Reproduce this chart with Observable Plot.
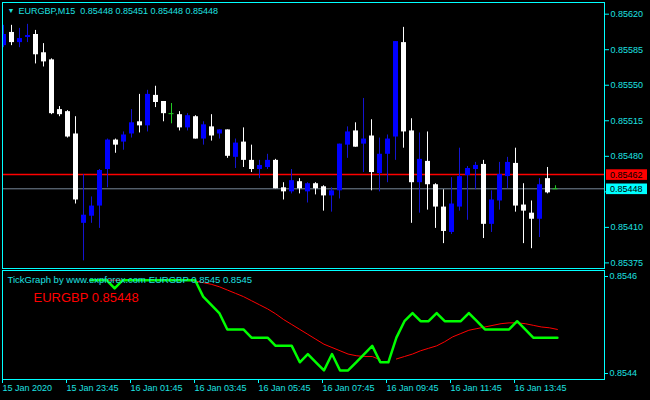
<!DOCTYPE html>
<html>
<head>
<meta charset="utf-8">
<script src="https://cdn.jsdelivr.net/npm/d3@7"></script>
<script src="https://cdn.jsdelivr.net/npm/@observablehq/plot@0.6"></script>
<style>
  html, body { margin: 0; padding: 0; background: #000; }
  #chart { position: relative; width: 650px; height: 400px; background: #000; overflow: hidden; }
  #chart svg { position: absolute; left: 0; display: block; overflow: visible; }
</style>
</head>
<body>
<div id="chart"></div>
<script>
// EURGBP M15 bars, oldest first
const symbol = "EURGBP";
const period = "M15";
const open = [0.85589,0.85602,0.85592,0.85597,0.85600,0.85582,0.85575,0.85526,0.85524,0.85502,
  0.85414,0.85421,0.85431,0.85467,0.85496,0.85494,0.85502,0.85514,0.85510,0.85540,
  0.85534,0.85522,0.85521,0.85508,0.85519,0.85497,0.85509,0.85502,0.85506,0.85479,
  0.85494,0.85476,0.85467,0.85469,0.85476,0.85449,0.85445,0.85455,0.85445,0.85453,
  0.85450,0.85441,0.85446,0.85491,0.85505,0.85492,0.85500,0.85463,0.85482,0.85499,
  0.85592,0.85505,0.85454,0.85475,0.85452,0.85430,0.85405,0.85430,0.85461,0.85467,
  0.85472,0.85413,0.85436,0.85460,0.85473,0.85432,0.85424,0.85418,0.85458,0.85448];
const high = [0.85609,0.85609,0.85606,0.85610,0.85604,0.85591,0.85576,0.85529,0.85525,0.85519,
  0.85462,0.85440,0.85467,0.85497,0.85497,0.85504,0.85526,0.85541,0.85545,0.85549,
  0.85534,0.85532,0.85524,0.85522,0.85520,0.85514,0.85521,0.85506,0.85506,0.85497,
  0.85508,0.85491,0.85476,0.85482,0.85477,0.85454,0.85467,0.85458,0.85454,0.85454,
  0.85451,0.85449,0.85492,0.85509,0.85513,0.85537,0.85516,0.85498,0.85501,0.85593,
  0.85607,0.85517,0.85503,0.85504,0.85453,0.85447,0.85459,0.85488,0.85470,0.85474,
  0.85476,0.85446,0.85474,0.85479,0.85488,0.85453,0.85436,0.85458,0.85469,0.85451];
const low = [0.85587,0.85589,0.85587,0.85592,0.85571,0.85568,0.85521,0.85519,0.85498,0.85433,
  0.85377,0.85414,0.85409,0.85449,0.85483,0.85486,0.85498,0.85503,0.85504,0.85528,
  0.85514,0.85512,0.85505,0.85505,0.85497,0.85491,0.85495,0.85497,0.85478,0.85468,
  0.85469,0.85464,0.85458,0.85467,0.85448,0.85437,0.85443,0.85443,0.85434,0.85442,
  0.85426,0.85425,0.85438,0.85478,0.85489,0.85464,0.85446,0.85445,0.85454,0.85476,
  0.85488,0.85414,0.85424,0.85427,0.85409,0.85394,0.85403,0.85426,0.85417,0.85447,
  0.85399,0.85405,0.85427,0.85448,0.85425,0.85394,0.85389,0.85400,0.85443,0.85448];
const close = [0.85600,0.85592,0.85596,0.85599,0.85580,0.85573,0.85522,0.85521,0.85499,0.85437,
  0.85422,0.85431,0.85466,0.85496,0.85491,0.85501,0.85513,0.85510,0.85541,0.85533,
  0.85522,0.85522,0.85508,0.85520,0.85497,0.85511,0.85500,0.85506,0.85480,0.85493,
  0.85476,0.85467,0.85471,0.85476,0.85448,0.85445,0.85456,0.85448,0.85453,0.85448,
  0.85441,0.85446,0.85492,0.85504,0.85489,0.85497,0.85464,0.85482,0.85497,0.85593,
  0.85504,0.85454,0.85477,0.85452,0.85430,0.85406,0.85433,0.85460,0.85468,0.85471,
  0.85413,0.85437,0.85462,0.85474,0.85431,0.85426,0.85418,0.85452,0.85444,0.85448];

const bid = 0.85448;
const ask = 0.85462;

// price scale labels and time labels (bar index of each label)
const priceTicks = [0.85620, 0.85585, 0.85550, 0.85515, 0.85480, 0.85445, 0.85410, 0.85375];
const timeTickBars = [0, 8, 16, 24, 32, 40, 48, 56, 64];
const timeLabels = ["15 Jan 2020", "15 Jan 23:45", "16 Jan 01:45", "16 Jan 03:45", "16 Jan 05:45",
  "16 Jan 07:45", "16 Jan 09:45", "16 Jan 11:45", "16 Jan 13:45"];

// TickGraph window: incoming tick prices and their moving average (null = not drawn)
const tickPrices = [0.85455,0.85455,0.85455,0.85454,0.85455,0.85455,0.85455,0.85455,0.85455,0.85455,
  0.85455,0.85455,0.85455,0.85455,0.85453,0.85452,0.85451,0.85449,0.85449,0.85449,
  0.85448,0.85448,0.85448,0.85447,0.85447,0.85447,0.85445,0.85446,0.85445,0.85444,
  0.85446,0.85444,0.85444,0.85445,0.85446,0.85447,0.85445,0.85445,0.85448,0.85450,
  0.85451,0.85450,0.85450,0.85451,0.85450,0.85450,0.85450,0.85451,0.85450,0.85449,
  0.85449,0.85449,0.85449,0.85450,0.85449,0.85448,0.85448,0.85448,0.85448];
const tickAverage = [0.854550,0.854550,0.854550,0.854550,0.854550,0.854550,0.854550,0.854550,0.854550,0.854550,
  0.854550,0.854550,0.854550,0.854549,0.854547,0.854545,0.854542,0.854538,0.854534,0.854530,
  0.854525,0.854520,0.854515,0.854509,0.854502,0.854496,0.854490,0.854484,0.854478,0.854472,
  0.854468,0.854464,0.854460,0.854458,0.854457,0.854457,0.854453,null,0.854454,0.854457,
  0.854460,0.854464,0.854467,0.854470,0.854475,0.854481,0.854485,0.854489,0.854491,0.854493,
  0.854495,0.854497,0.854498,0.854498,0.854497,0.854495,0.854493,0.854492,0.854490];

const BULL = "#0000ff", BEAR = "#ffffff", DOJI = "#22cc22";
const BULL_WICK = "#1414d2";
const FRAME = "#00ffff", TEXT = "#1ee0e0";
const FONT = "'Liberation Sans', Arial, sans-serif";
const f5 = d3.format(".5f"), f4 = d3.format(".4f");

const bars = open.map((o, k) => ({k, open: o, high: high[k], low: low[k], close: close[k]}));
const bodyColor = d => d.close > d.open ? BULL : d.close < d.open ? BEAR : DOJI;
const wickColor = d => d.close > d.open ? BULL_WICK : d.close < d.open ? BEAR : DOJI;
const last = bars[bars.length - 1];
const title = `${symbol},${period}\u00a0\u00a0${f5(last.open)} ${f5(last.high)} ${f5(last.low)} ${f5(last.close)}`;

// a scale label that sits under a current-price tag is hidden by it
const underTag = d => Math.abs(d - bid) < 0.00005 || Math.abs(d - ask) < 0.00005;

const container = document.getElementById("chart");

// price chart
const main = Plot.plot({
  width: 650, height: 269,
  marginTop: 2, marginBottom: 1, marginLeft: 2, marginRight: 46,
  style: {background: "#000", fontFamily: FONT, fontSize: "9px", color: TEXT},
  x: {domain: [-0.125, 75.125], axis: null},
  y: {domain: [0.853695, 0.856315], axis: null},
  color: {type: "identity"},
  marks: [
    Plot.ruleY([ask], {stroke: "#ff0000", strokeWidth: 1.5}),
    Plot.ruleY([bid], {stroke: "#778899", strokeWidth: 1}),
    Plot.ruleX(bars, {x: "k", y1: "low", y2: "high", stroke: wickColor, strokeWidth: 1, clip: true}),
    Plot.ruleX(bars.filter(d => d.open !== d.close), {x: "k", y1: "open", y2: "close", stroke: bodyColor, strokeWidth: 5, strokeLinecap: "butt", clip: true}),
    Plot.ruleY(bars.filter(d => d.open === d.close), {y: "close", x1: d => d.k - 0.3125, x2: d => d.k + 0.3125, stroke: DOJI, strokeWidth: 1}),
    Plot.frame({stroke: FRAME}),
    Plot.axisY({anchor: "right", ticks: priceTicks, tickFormat: d => underTag(d) ? "" : f5(d), tickSize: 4, tickPadding: 2,
      stroke: FRAME, fill: TEXT, fontSize: 9, label: null}),
    Plot.text(["\u25bc"], {frameAnchor: "top-left", dx: 5, dy: 8.5, lineAnchor: "middle", textAnchor: "start", fill: TEXT, fontSize: 7}),
    Plot.text([title], {frameAnchor: "top-left", dx: 16, dy: 8.5, lineAnchor: "middle", textAnchor: "start", fill: TEXT, fontSize: 9})
  ]
});
main.style.top = "0px";

// current price tags on the price scale
{
  const y = main.scale("y");
  const svg = d3.select(main);
  [[ask, "#ff0000"], [bid, "#00ffff"]].forEach(([v, c]) => {
    const py = y.apply(v) + 0.5;
    const g = svg.append("g");
    g.append("rect").attr("x", 606).attr("y", py - 5.3).attr("width", 41).attr("height", 10.6).attr("fill", c);
    g.append("text").attr("x", 610).attr("y", py).attr("dy", "0.35em").attr("text-anchor", "start")
      .attr("font-family", FONT).attr("font-size", 9).attr("fill", "#000").text(f5(v));
  });
}
container.appendChild(main);

// TickGraph window
const ticks = tickPrices.map((v, i) => ({i, v, ma: tickAverage[i]}));
const tickDomain = [0.854429, 0.8545618];
const ind = Plot.plot({
  width: 650, height: 111,
  marginTop: 1, marginBottom: 1, marginLeft: 2, marginRight: 46,
  style: {background: "#000", fontFamily: FONT, fontSize: "9px", color: TEXT},
  x: {domain: [-10.93, 63.85], axis: null},
  y: {domain: tickDomain, axis: null},
  marks: [
    Plot.frame({stroke: FRAME}),
    Plot.line(ticks, {x: "i", y: "ma", stroke: "#ff0000", strokeWidth: 1}),
    Plot.line(ticks, {x: "i", y: "v", stroke: "#00ff00", strokeWidth: 2.5}),
    Plot.axisY({anchor: "right", ticks: [tickDomain[1]], tickFormat: f4, tickSize: 3, tickPadding: 2,
      dy: 6, stroke: FRAME, fill: TEXT, fontSize: 9, label: null}),
    Plot.axisY({anchor: "right", ticks: [tickDomain[0]], tickFormat: f4, tickSize: 3, tickPadding: 2,
      dy: -6, stroke: FRAME, fill: TEXT, fontSize: 9, label: null}),
    Plot.text([`TickGraph by www.expforex.com ${symbol} ${f4(tickPrices[tickPrices.length - 1])} ${f4(tickAverage[tickAverage.length - 1])}`],
      {frameAnchor: "top-left", dx: 5, dy: 9.7, lineAnchor: "middle", textAnchor: "start", fill: TEXT, fontSize: 9.5}),
    Plot.text([`${symbol} ${f5(bid)}`],
      {frameAnchor: "top-left", dx: 31, dy: 27, lineAnchor: "middle", textAnchor: "start", fill: "#ff0000", fontSize: 13})
  ]
});
ind.style.top = "269px";
container.appendChild(ind);

// time scale under the windows
const timeAxis = Plot.plot({
  width: 650, height: 20,
  marginTop: 0, marginBottom: 20, marginLeft: 2, marginRight: 46,
  style: {background: "#000", fontFamily: FONT, fontSize: "9px", color: TEXT, overflow: "visible"},
  x: {domain: [-0.125, 75.125]},
  marks: [
    Plot.axisX({anchor: "bottom", ticks: timeTickBars, tickFormat: d => timeLabels[timeTickBars.indexOf(d)],
      tickSize: 3, tickPadding: 1, textAnchor: "start", dx: -1, stroke: FRAME, fill: TEXT, fontSize: 9, label: null})
  ]
});
timeAxis.style.top = "380px";
container.appendChild(timeAxis);
</script>
</body>
</html>
